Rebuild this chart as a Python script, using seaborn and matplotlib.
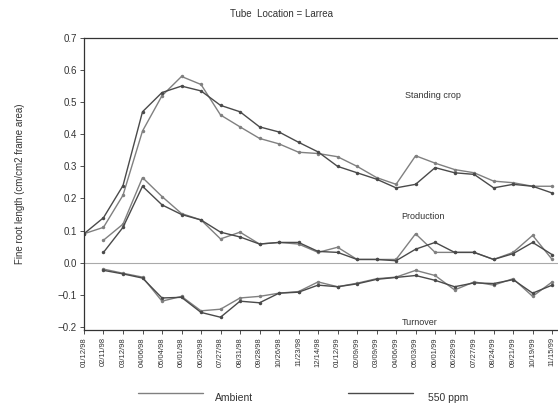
import matplotlib
matplotlib.use("Agg")
import matplotlib.pyplot as plt
import seaborn as sns
import pandas as pd
import numpy as np
from matplotlib.lines import Line2D

dates = ["01/12/98", "02/11/98", "03/12/98", "04/06/98", "05/04/98", "06/01/98",
         "06/29/98", "07/27/98", "08/31/98", "09/28/98", "10/26/98", "11/23/98",
         "12/14/98", "01/12/99", "02/09/99", "03/09/99", "04/06/99", "05/03/99",
         "06/01/99", "06/28/99", "07/27/99", "08/24/99", "09/21/99", "10/19/99",
         "11/15/99"]

standing_ambient = [0.09, 0.11, 0.21, 0.41, 0.52, 0.58, 0.555, 0.46, 0.423, 0.387, 0.37, 0.344,
                    0.34, 0.33, 0.30, 0.265, 0.244, 0.333, 0.31, 0.29, 0.28, 0.254, 0.249, 0.238, 0.238]
standing_550 = [0.09, 0.14, 0.24, 0.47, 0.53, 0.55, 0.535, 0.49, 0.47, 0.423, 0.407, 0.375,
                0.345, 0.30, 0.28, 0.26, 0.233, 0.244, 0.296, 0.28, 0.275, 0.233, 0.244, 0.238, 0.217]

production_ambient = [None, 0.07, 0.12, 0.265, 0.206, 0.153, 0.133, 0.074, 0.095, 0.058, 0.063, 0.058,
                      0.032, 0.048, 0.010, 0.010, 0.010, 0.090, 0.032, 0.032, 0.032, 0.010, 0.032, 0.085, 0.010]
production_550 = [None, 0.032, 0.11, 0.238, 0.18, 0.15, 0.133, 0.095, 0.08, 0.058, 0.063, 0.063,
                  0.035, 0.032, 0.010, 0.010, 0.006, 0.042, 0.063, 0.032, 0.032, 0.010, 0.028, 0.063, 0.025]

turnover_ambient = [None, -0.02, -0.033, -0.045, -0.12, -0.105, -0.15, -0.145, -0.11, -0.105, -0.095, -0.09,
                    -0.06, -0.075, -0.064, -0.05, -0.045, -0.024, -0.04, -0.085, -0.06, -0.07, -0.05, -0.105, -0.06]
turnover_550 = [None, -0.024, -0.035, -0.048, -0.11, -0.108, -0.155, -0.17, -0.12, -0.125, -0.095, -0.092,
                -0.07, -0.075, -0.066, -0.052, -0.046, -0.04, -0.055, -0.075, -0.063, -0.065, -0.053, -0.095, -0.07]

yticks = [-0.2, -0.1, 0.0, 0.1, 0.2, 0.3, 0.4, 0.5, 0.6, 0.7]

rows = []
for comp, a, b in [("Standing crop", standing_ambient, standing_550),
                   ("Production", production_ambient, production_550),
                   ("Turnover", turnover_ambient, turnover_550)]:
    for trt, vals in [("Ambient", a), ("550 ppm", b)]:
        for i, v in enumerate(vals):
            if v is not None:
                rows.append({"idx": i, "value": v, "treatment": trt, "component": comp})
df = pd.DataFrame(rows)

sns.set_theme(style="white")
plt.rcParams["font.family"] = ["Liberation Sans", "DejaVu Sans"]

fig = plt.figure(figsize=(5.58, 4.08), dpi=100)
ax = fig.add_axes([0.1505, 0.191, 0.8495, 0.716])

palette = {"Ambient": "#808080", "550 ppm": "#4a4a4a"}
for comp in ["Standing crop", "Production", "Turnover"]:
    sub = df[df["component"] == comp]
    sns.lineplot(data=sub, x="idx", y="value", hue="treatment", palette=palette,
                 marker="o", markersize=2.5, markeredgewidth=0, linewidth=1.0,
                 sort=False, estimator=None, legend=False, ax=ax)

ax.axhline(0, color="#aaaaaa", linewidth=0.8, zorder=0)
ax.set_xlim(0, 24.3)
ax.set_ylim(-0.21, 0.7)
ax.set_yticks(yticks)
ax.set_yticklabels([f"{t:.1f}".replace("-", "\u2212") for t in yticks], fontsize=7, color="#333333")
ax.set_xticks(range(len(dates)))
ax.set_xticklabels(dates, rotation=90, fontsize=5.5, color="#333333")
ax.tick_params(axis="both", length=3, width=0.6, direction="out", colors="#333333", pad=2)
ax.tick_params(axis="x", bottom=True)
ax.tick_params(axis="y", left=True)
ax.set_xlabel("")
ax.set_ylabel("Fine root length (cm/cm2 frame area)", fontsize=7, color="#333333", labelpad=24)
for s in ["left", "bottom", "top"]:
    ax.spines[s].set_color("#333333")
    ax.spines[s].set_linewidth(0.9)
ax.spines["right"].set_visible(False)

ax.text(17.9, 0.52, "Standing crop", fontsize=6.5, color="#333333", ha="center", va="center")
ax.text(17.4, 0.145, "Production", fontsize=6.5, color="#333333", ha="center", va="center")
ax.text(17.2, -0.185, "Turnover", fontsize=6.5, color="#333333", ha="center", va="center")

fig.text(0.505, 0.965, "Tube  Location = Larrea", fontsize=7, color="#333333", ha="center", va="center")

# legend at the bottom
fig.add_artist(Line2D([138/558, 203/558], [1 - 393/408, 1 - 393/408], color="#808080", linewidth=1.0))
fig.text(215/558, 1 - 398/408, "Ambient", fontsize=7.5, color="#333333", ha="left", va="center")
fig.add_artist(Line2D([348/558, 413/558], [1 - 393/408, 1 - 393/408], color="#4a4a4a", linewidth=1.0))
fig.text(428/558, 1 - 398/408, "550 ppm", fontsize=7.5, color="#333333", ha="left", va="center")

fig.savefig("out.png", dpi=100)
